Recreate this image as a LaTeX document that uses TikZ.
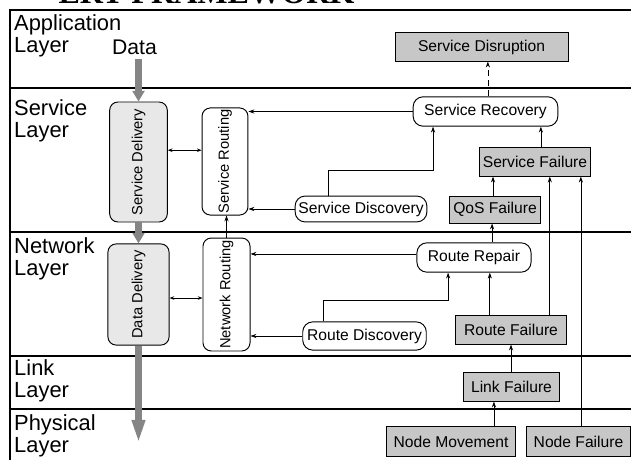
\documentclass[tikz,border=0pt]{standalone}
\usepackage{fontspec}
\setmainfont{Liberation Sans}
\newfontfamily\titlefont{Liberation Serif}
\usepackage{graphicx}
\usepackage{tikz}
\usetikzlibrary{arrows.meta, positioning, calc}
\usepackage{xcolor}

\begin{document}
\begin{tikzpicture}[x=0.85pt, y=-0.85pt,
    layer/.style={anchor=north west, align=left, inner sep=0pt, font=\fontsize{18.6}{19}\selectfont},
    failbox/.style={draw, line width=0.8pt, fill=black!22, inner sep=0pt, font=\fontsize{13.3}{15}\selectfont},
    procbox/.style={draw, line width=0.8pt, fill=white, rounded corners=8.5pt, inner sep=0pt, font=\fontsize{13.3}{15}\selectfont},
    colbox/.style={draw, line width=0.8pt, rounded corners=7pt, inner sep=0pt, font=\fontsize{12.5}{14}\selectfont},
    arr/.style={-{Stealth[length=5pt,width=3.5pt]}, line width=0.6pt},
    biarr/.style={{Stealth[length=4pt,width=3pt]}-{Stealth[length=4pt,width=3pt]}, line width=0.6pt},
    flow/.style={line width=6pt, draw=black!48}]

    \useasboundingbox (0,0) rectangle (631,460);

    % --- FRAME AND LAYERS ---
    \node[font=\titlefont\bfseries\fontsize{27.3}{28}\selectfont, anchor=base, inner sep=0pt] (title) at (206.5,4) {ERT FRAMEWORK};
    \draw[line width=1.4pt] (10,470) |- (640,10);
    \foreach \y in {88,232,356,409}
        \draw[line width=1.4pt] (10,\y) -- (640,\y);

    \node[layer] (app) at (14,14) {Application\\Layer};
    \node[layer] (svc) at (14,99) {Service\\Layer};
    \node[layer] (net) at (14,237) {Network\\Layer};
    \node[layer] (lnk) at (14,359) {Link\\Layer};
    \node[layer] (phy) at (14,414) {Physical\\Layer};

    \node[font=\fontsize{18}{19}\selectfont, anchor=base] (data) at (134.5,55) {Data};

    % --- DELIVERY AND ROUTING COLUMNS ---
    \node[colbox, fill=black!9, minimum width=49pt, minimum height=102pt] (sd) at (138.5,162) {\rotatebox{90}{Service Delivery}};
    \node[colbox, fill=white, minimum width=39pt, minimum height=91pt] (srt) at (225,161.5) {\rotatebox{90}{Service Routing}};
    \node[colbox, fill=black!9, minimum width=52pt, minimum height=86pt] (dd) at (138.5,294.5) {\rotatebox{90}{Data Delivery}};
    \node[colbox, fill=white, minimum width=40pt, minimum height=96pt] (nr) at (226.5,294.5) {\rotatebox{90}{Network Routing}};

    % --- RECOVERY AND FAILURES ---
    \node[failbox, minimum width=147pt, minimum height=24pt] (sdis) at (481.5,47) {Service Disruption};
    \node[procbox, minimum width=123pt, minimum height=25pt] (srec) at (485.5,111.5) {Service Recovery};
    \node[failbox, minimum width=95pt, minimum height=24pt] (sfail) at (535,162) {Service Failure};
    \node[procbox, minimum width=112pt, minimum height=22pt] (sdisc) at (361,209) {Service Discovery};
    \node[failbox, minimum width=78pt, minimum height=23pt] (qos) at (495,209.5) {QoS Failure};
    \node[procbox, minimum width=97pt, minimum height=25pt] (rr) at (474,257.5) {Route Repair};
    \node[procbox, minimum width=105pt, minimum height=24pt] (rdisc) at (364.5,336) {Route Discovery};
    \node[failbox, minimum width=95pt, minimum height=24pt] (rfail) at (511,330) {Route Failure};
    \node[failbox, minimum width=81pt, minimum height=24pt] (lfail) at (511.5,387) {Link Failure};
    \node[failbox, minimum width=110pt, minimum height=25pt] (nm) at (451,441.5) {Node Movement};
    \node[failbox, minimum width=88pt, minimum height=25pt] (nf) at (578.5,441.5) {Node Failure};

    % --- DATA FLOW ---
    \coordinate (sink) at (138.5,448);
    \draw[flow, -{Triangle[length=9pt,width=10pt]}] (data.south -| sd.north) -- (sd.north);
    \draw[flow, -{Triangle[length=9pt,width=10pt]}] (sd.south) -- (dd.north);
    \draw[flow, -{Triangle[length=24pt,width=9.5pt]}] (dd.south) -- (sink);

    % --- SERVICE LAYER LINKS ---
    \draw[biarr] ([yshift=10pt]sd.east) -- ([yshift=10pt]sd.east -| srt.west);
    \draw[arr, dash pattern=on 5pt off 3.5pt] ([xshift=2pt]srec.north) -- ([xshift=2pt]srec.north |- sdis.south);
    \draw[arr] (srec.west) -- (srec.west -| srt.east);
    \draw[arr] ([xshift=5pt]sfail.north) -- ([xshift=5pt]sfail.north |- srec.south);
    \draw[arr] ([xshift=-1.7pt]qos.north) -- ([xshift=-1.7pt]qos.north |- sfail.south);
    \draw[arr] ([xshift=33pt]rfail.north) -- ([xshift=33pt]rfail.north |- sfail.south);
    \draw[arr] ([xshift=2pt]nf.north) -- ([xshift=2pt]nf.north |- sfail.south);
    \draw[arr] (sdisc.west) -- (sdisc.west -| srt.east);
    \draw[arr] ([xshift=-28pt]sdisc.north) -- ++(0,-25) -| ([xshift=-44.6pt]srec.south);

    % --- NETWORK LAYER LINKS ---
    \draw[biarr] ([yshift=-3pt]dd.east) -- ([yshift=-3pt]dd.east -| nr.west);
    \draw[arr] (nr.north) -- (nr.north |- srt.south);
    \draw[arr] ([yshift=3pt]rr.west) -- ([yshift=3pt]rr.west -| nr.east);
    \draw[arr] (rdisc.west) -- (rdisc.west -| nr.east);
    \draw[arr] ([xshift=-35pt]rdisc.north) -- ++(0,-21) -| ([xshift=-22pt]rr.south);
    \draw[arr] ([xshift=-2.5pt]qos.south |- rr.north) -- ([xshift=-2.5pt]qos.south);
    \draw[arr] ([xshift=-18pt]rfail.north) -- ([xshift=-18pt]rfail.north |- rr.south);

    % --- LINK AND PHYSICAL LAYER LINKS ---
    \draw[arr] (lfail.north -| rfail.south) -- (rfail.south);
    \draw[arr] ([xshift=36.5pt]nm.north) -- ([xshift=36.5pt]nm.north |- lfail.south);

\end{tikzpicture}
\end{document}
